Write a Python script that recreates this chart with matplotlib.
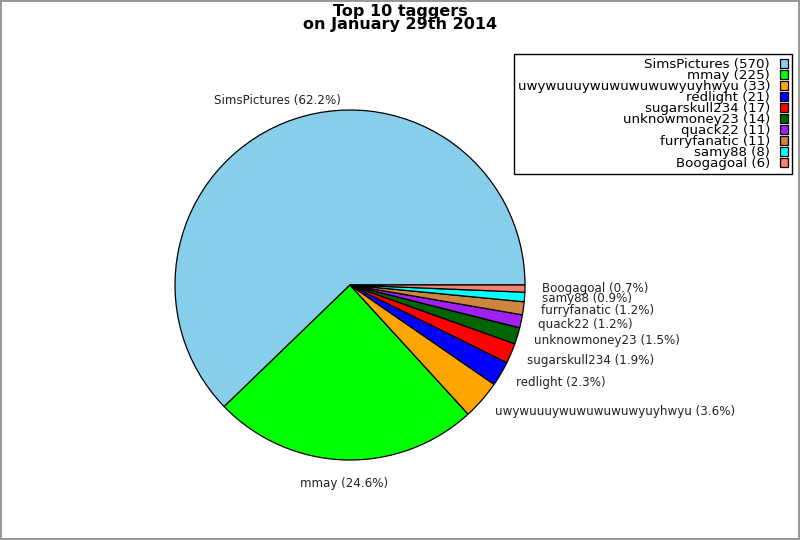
import matplotlib
matplotlib.use('Agg')
import matplotlib.pyplot as plt

users = ['SimsPictures', 'mmay', 'uwywuuuywuwuwuwuwyuyhwyu', 'redlight', 'sugarskull234',
         'unknowmoney23', 'quack22', 'furryfanatic', 'samy88', 'Boogagoal']
counts = [570, 225, 33, 21, 17, 14, 11, 11, 8, 6]
colors = ['#87CEEB', '#00FF00', '#FFA500', '#0000FF', '#FF0000',
          '#006400', '#A020F0', '#CD853F', '#00FFFF', '#FA8072']

total = sum(counts)
pie_labels = ['%s (%.1f%%)' % (u, 100.0 * c / total) for u, c in zip(users, counts)]
legend_labels = ['%s (%d)' % (u, c) for u, c in zip(users, counts)]

fig = plt.figure(figsize=(8, 5.4), dpi=100, edgecolor='#999999', linewidth=1.5)
ax = fig.add_axes([175 / 800, 80 / 540, 350 / 800, 350 / 540])

wedges, texts = ax.pie(counts, labels=pie_labels, colors=colors, startangle=0,
                       counterclock=True, labeldistance=1.1,
                       wedgeprops={'edgecolor': 'black', 'linewidth': 0.9},
                       textprops={'fontsize': 8.6, 'color': '#222222'})
for t in texts:
    x, y = t.get_position()
    if x < 0:
        t.set_ha('center')
        t.set_va('bottom' if y > 0 else 'top')
ax.set_xlim(-1, 1)
ax.set_ylim(-1, 1)
ax.set_aspect('equal')
ax.axis('off')

fig.suptitle('Top 10 taggers\non January 29th 2014', fontsize=11.5, fontweight='bold',
             y=0.993, va='top', linespacing=0.85)

leg = fig.legend(wedges, legend_labels, loc='upper right', bbox_to_anchor=(0.99, 0.9),
                 bbox_transform=fig.transFigure, borderaxespad=0, markerfirst=False,
                 fontsize=9.6, fancybox=False, edgecolor='black', framealpha=1,
                 labelspacing=-0.15, handlelength=0.6, handleheight=0.7,
                 handletextpad=0.75, borderpad=0.3)
leg.get_frame().set_linewidth(1)
for t in leg.get_texts():
    t.set_ha('right')
leg._legend_box.align = 'right'

fig.savefig('out.png', dpi=100, edgecolor=fig.get_edgecolor())
